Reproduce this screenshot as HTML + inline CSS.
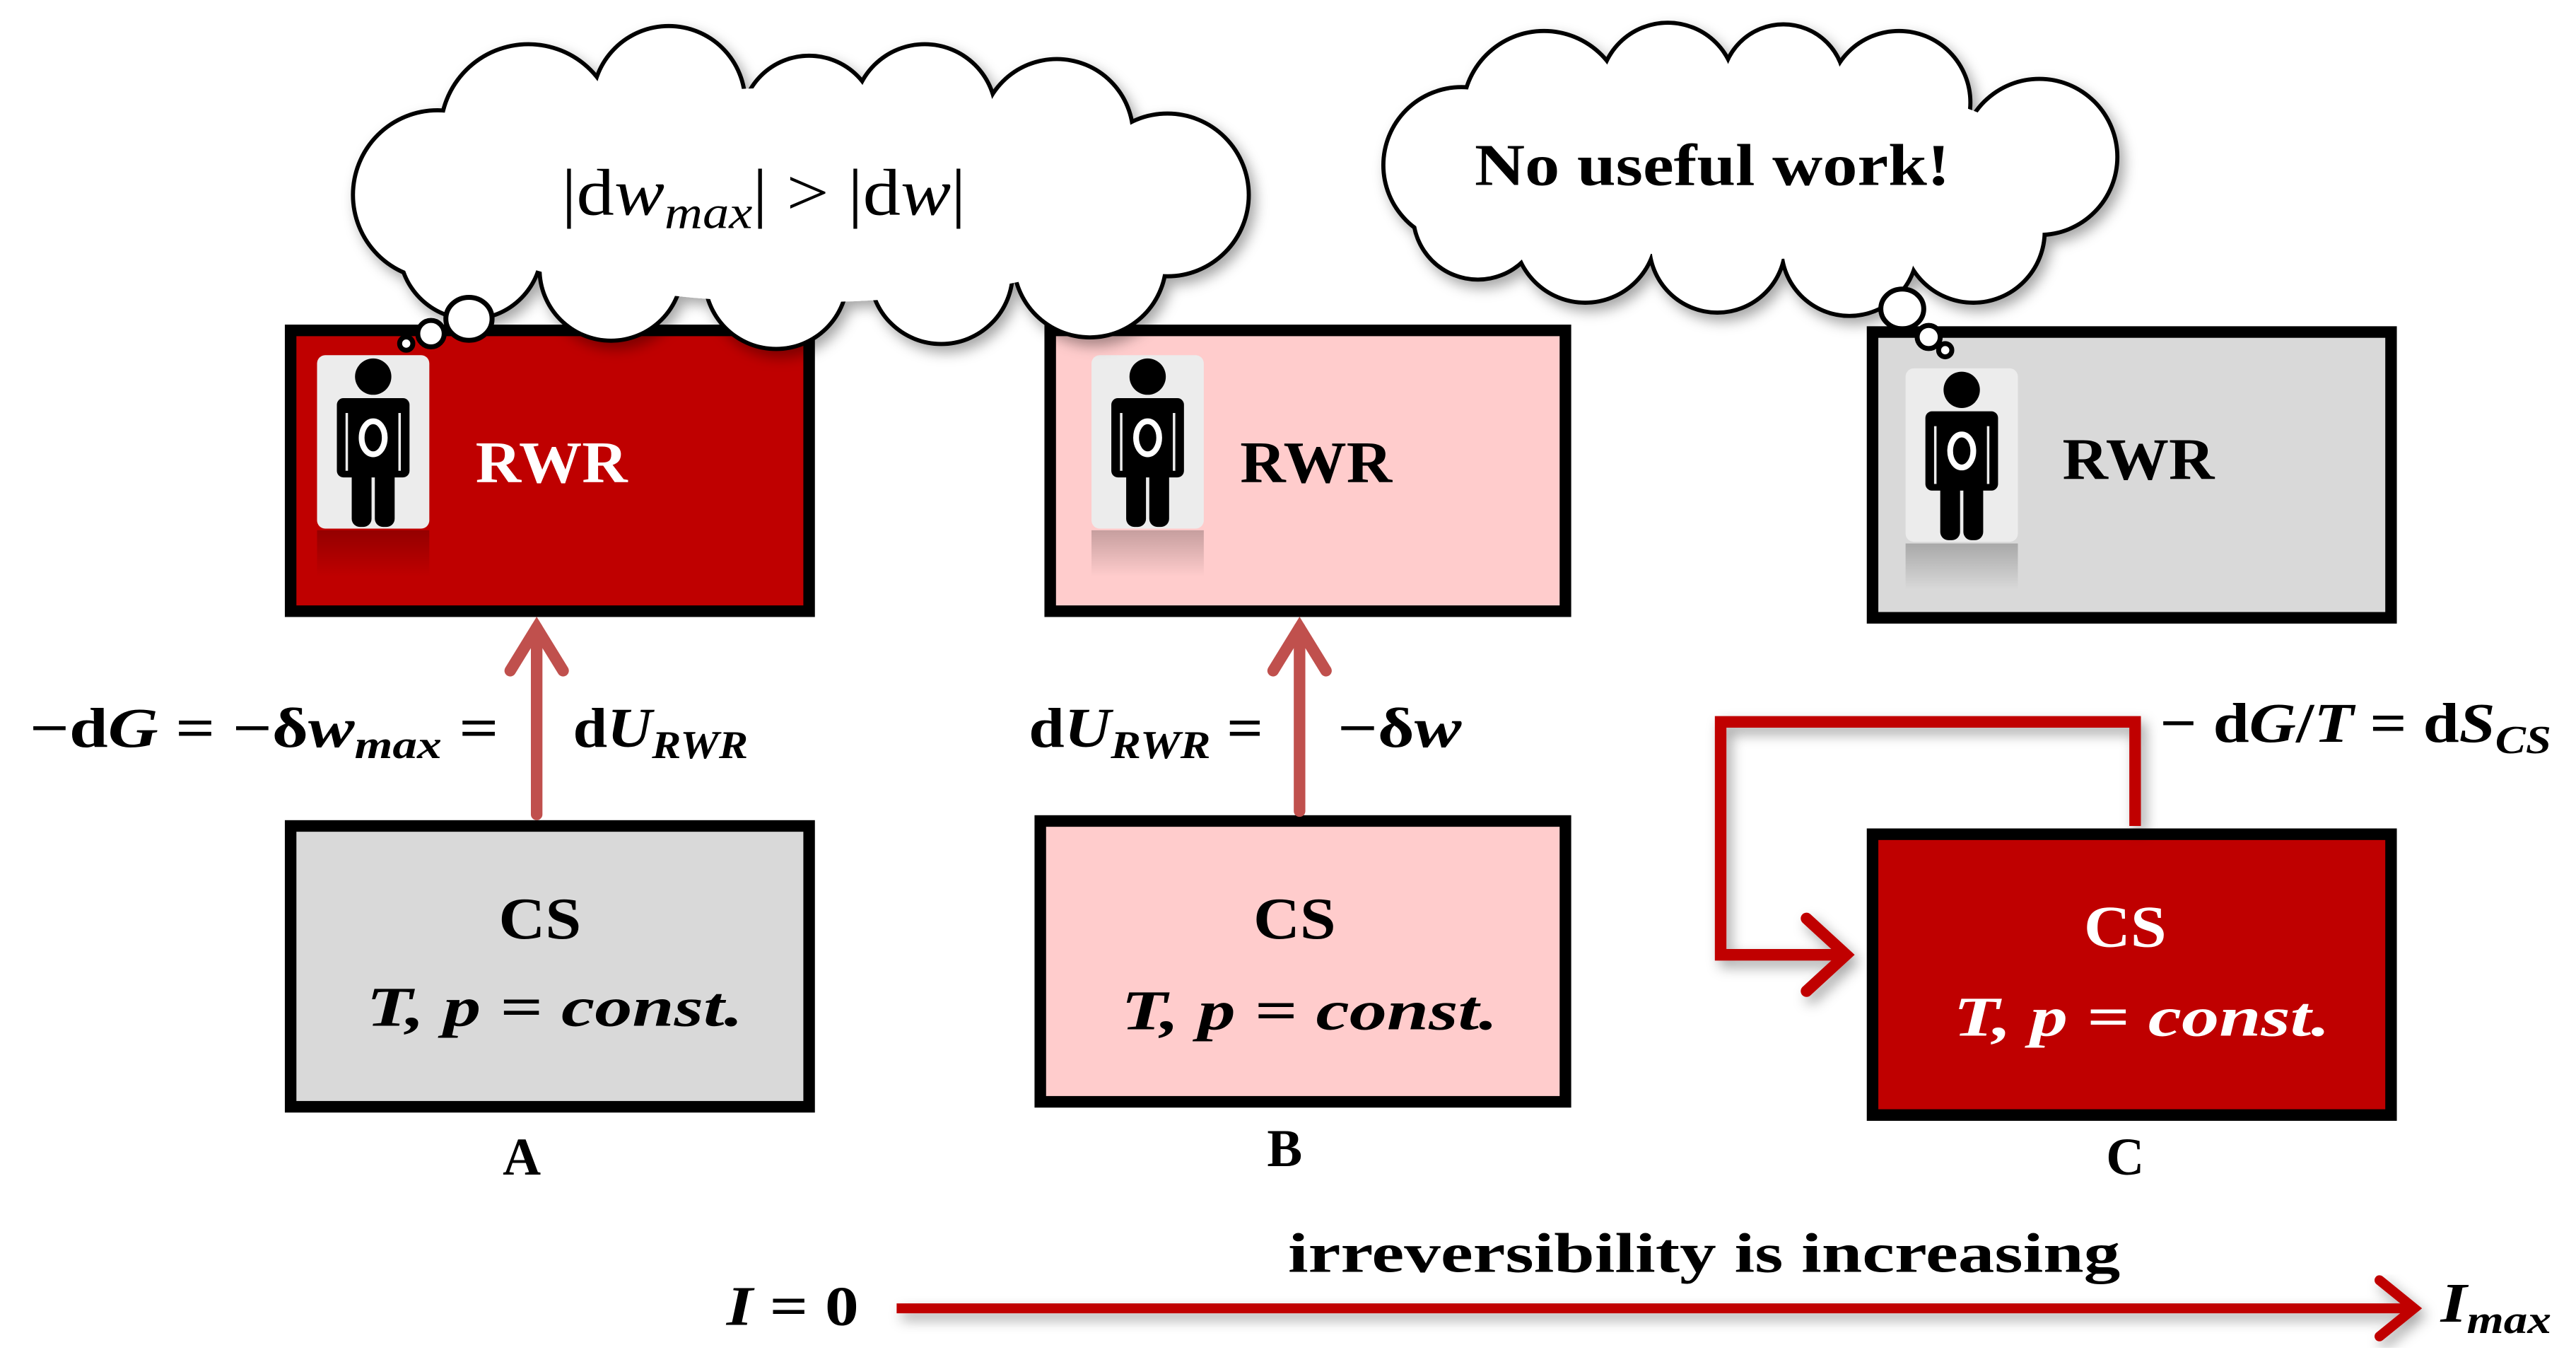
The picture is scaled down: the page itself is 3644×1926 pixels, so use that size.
<!DOCTYPE html>
<html><head><meta charset="utf-8"><style>
html,body{margin:0;padding:0;background:#fff;}
svg{display:block}
text{font-family:"Liberation Serif",serif;}
</style></head><body>
<svg width="3644" height="1926" viewBox="0 0 1560 824.5" preserveAspectRatio="none" xmlns="http://www.w3.org/2000/svg">
<defs>
<filter id="sh" x="-10%" y="-10%" width="130%" height="130%"><feDropShadow dx="3" dy="4" stdDeviation="4" flood-color="#000" flood-opacity="0.35"/></filter>
<linearGradient id="refl" x1="0" y1="0" x2="0" y2="1"><stop offset="0" stop-color="#000" stop-opacity="0.45"/><stop offset="1" stop-color="#000" stop-opacity="0"/></linearGradient>
<g id="person">
<rect x="0" y="0" width="68" height="105" rx="5" fill="#ececec"/>
<circle cx="34" cy="13" r="11" fill="#000"/>
<rect x="12" y="26" width="44" height="48" rx="4" fill="#000"/>
<rect x="21" y="60" width="12" height="44" rx="5" fill="#000"/>
<rect x="35" y="60" width="12" height="44" rx="5" fill="#000"/>
<ellipse cx="34" cy="50" rx="7" ry="10" fill="none" stroke="#fff" stroke-width="3.5"/>
<line x1="18" y1="35" x2="18" y2="70" stroke="#ececec" stroke-width="1.5"/>
<line x1="50" y1="35" x2="50" y2="70" stroke="#ececec" stroke-width="1.5"/>
<rect x="0" y="106" width="68" height="28" fill="url(#refl)" opacity="0.5"/>
</g>
</defs>

<!-- Boxes -->
<rect x="176" y="200" width="314" height="170" fill="#bf0000" stroke="#000" stroke-width="7"/>
<rect x="636" y="200" width="312" height="170" fill="#ffcccc" stroke="#000" stroke-width="7"/>
<rect x="1134" y="201" width="314" height="173" fill="#d9d9d9" stroke="#000" stroke-width="7"/>
<rect x="176" y="500" width="314" height="170" fill="#d9d9d9" stroke="#000" stroke-width="7"/>
<rect x="630" y="497" width="318" height="170" fill="#ffcccc" stroke="#000" stroke-width="7"/>
<rect x="1134" y="505" width="314" height="170" fill="#bf0000" stroke="#000" stroke-width="7"/>

<use href="#person" x="192" y="215"/>
<use href="#person" x="661" y="215"/>
<use href="#person" x="1154" y="223"/>

<!-- Cloud 1 -->
<g filter="url(#sh)">
<g stroke="#000" stroke-width="5" fill="#fff">
<circle cx="265" cy="118" r="50"/><circle cx="320" cy="80" r="52"/><circle cx="405" cy="62" r="45"/><circle cx="490" cy="75" r="40"/><circle cx="560" cy="70" r="42"/><circle cx="640" cy="82" r="45"/><circle cx="707" cy="118" r="48"/><circle cx="660" cy="158" r="45"/><circle cx="570" cy="165" r="42"/><circle cx="470" cy="168" r="42"/><circle cx="370" cy="163" r="42"/><circle cx="285" cy="150" r="42"/>
</g>
<g fill="#fff">
<circle cx="265" cy="118" r="50"/><circle cx="320" cy="80" r="52"/><circle cx="405" cy="62" r="45"/><circle cx="490" cy="75" r="40"/><circle cx="560" cy="70" r="42"/><circle cx="640" cy="82" r="45"/><circle cx="707" cy="118" r="48"/><circle cx="660" cy="158" r="45"/><circle cx="570" cy="165" r="42"/><circle cx="470" cy="168" r="42"/><circle cx="370" cy="163" r="42"/><circle cx="285" cy="150" r="42"/><ellipse cx="485" cy="118" rx="225" ry="65"/>
</g>
</g>
<!-- Cloud 2 -->
<g filter="url(#sh)">
<g stroke="#000" stroke-width="5" fill="#fff">
<circle cx="885" cy="100" r="46"/><circle cx="935" cy="68" r="48"/><circle cx="1010" cy="55" r="40"/><circle cx="1080" cy="52" r="36"/><circle cx="1150" cy="62" r="42"/><circle cx="1235" cy="95" r="46"/><circle cx="1195" cy="140" r="42"/><circle cx="1120" cy="150" r="40"/><circle cx="1040" cy="148" r="40"/><circle cx="960" cy="140" r="42"/><circle cx="895" cy="130" r="38"/>
</g>
<g fill="#fff">
<circle cx="885" cy="100" r="46"/><circle cx="935" cy="68" r="48"/><circle cx="1010" cy="55" r="40"/><circle cx="1080" cy="52" r="36"/><circle cx="1150" cy="62" r="42"/><circle cx="1235" cy="95" r="46"/><circle cx="1195" cy="140" r="42"/><circle cx="1120" cy="150" r="40"/><circle cx="1040" cy="148" r="40"/><circle cx="960" cy="140" r="42"/><circle cx="895" cy="130" r="38"/><ellipse cx="1060" cy="102" rx="175" ry="55"/>
</g>
</g>

<!-- bubbles -->
<g stroke="#000" stroke-width="3" fill="#fff">
<ellipse cx="284" cy="193" rx="14" ry="13"/><circle cx="261" cy="202" r="8"/><circle cx="246" cy="208" r="4"/>
<ellipse cx="1152" cy="187" rx="13" ry="12"/><circle cx="1168" cy="204" r="7"/><circle cx="1178" cy="212" r="4"/>
</g>

<g font-weight="bold" font-size="36">
<text x="288" y="292" fill="#fff" textLength="92" lengthAdjust="spacingAndGlyphs">RWR</text>
<text x="751" y="292" fill="#000" textLength="92" lengthAdjust="spacingAndGlyphs">RWR</text>
<text x="1249" y="290" fill="#000" textLength="92" lengthAdjust="spacingAndGlyphs">RWR</text>
<text x="302" y="568" textLength="50" lengthAdjust="spacingAndGlyphs">CS</text>
<text x="759" y="568" textLength="50" lengthAdjust="spacingAndGlyphs">CS</text>
<text x="1262" y="573" fill="#fff" textLength="50" lengthAdjust="spacingAndGlyphs">CS</text>
</g>
<g font-weight="bold" font-style="italic" font-size="34">
<text x="222" y="621" textLength="228" lengthAdjust="spacingAndGlyphs">T, p = const.</text>
<text x="679" y="623" textLength="228" lengthAdjust="spacingAndGlyphs">T, p = const.</text>
<text x="1183" y="627" fill="#fff" textLength="228" lengthAdjust="spacingAndGlyphs">T, p = const.</text>
</g>
<g font-weight="bold" font-size="32">
<text x="316" y="711" text-anchor="middle">A</text>
<text x="778" y="706" text-anchor="middle">B</text>
<text x="1287" y="711" text-anchor="middle">C</text>
</g>

<!-- cloud texts -->
<text x="340" y="130" font-size="40" textLength="245" lengthAdjust="spacingAndGlyphs">|d<tspan font-style="italic">w</tspan><tspan font-style="italic" font-size="28" dy="8">max</tspan><tspan dy="-8">| &gt; |d</tspan><tspan font-style="italic">w</tspan>|</text>
<text x="893" y="112" font-size="36" font-weight="bold" textLength="288" lengthAdjust="spacingAndGlyphs">No useful work!</text>

<!-- up arrows -->
<g stroke="#c0504d" stroke-width="7" fill="none" stroke-linecap="round">
<line x1="325" y1="493" x2="325" y2="380"/><polyline points="309,406 325,380 341,406"/>
<line x1="787" y1="491" x2="787" y2="380"/><polyline points="771,406 787,380 803,406"/>
</g>

<g font-size="34" font-weight="bold">
<text x="18" y="452" textLength="284" lengthAdjust="spacingAndGlyphs">−d<tspan font-style="italic">G</tspan> = −δ<tspan font-style="italic">w</tspan><tspan font-style="italic" font-size="24" dy="7">max</tspan><tspan dy="-7"> =</tspan></text>
<text x="347" y="452" textLength="106" lengthAdjust="spacingAndGlyphs">d<tspan font-style="italic">U</tspan><tspan font-style="italic" font-size="24" dy="7">RWR</tspan></text>
<text x="623" y="452" textLength="142" lengthAdjust="spacingAndGlyphs">d<tspan font-style="italic">U</tspan><tspan font-style="italic" font-size="24" dy="7">RWR</tspan><tspan dy="-7"> =</tspan></text>
<text x="810" y="452" textLength="75" lengthAdjust="spacingAndGlyphs">−δ<tspan font-style="italic">w</tspan></text>
<text x="1308" y="449" textLength="237" lengthAdjust="spacingAndGlyphs">− d<tspan font-style="italic">G</tspan>/<tspan font-style="italic">T</tspan> = d<tspan font-style="italic">S</tspan><tspan font-style="italic" font-size="24" dy="7">CS</tspan></text>
</g>

<!-- C loop connector -->
<g stroke="#c00000" stroke-width="7" fill="none" filter="url(#sh)">
<polyline points="1293,500 1293,437 1042,437 1042,578 1118,578"/>
<polyline points="1094,556 1118,578 1094,600" stroke-linecap="round"/>
</g>

<!-- bottom arrow -->
<g stroke="#c00000" stroke-width="6" fill="none" filter="url(#sh)">
<line x1="543" y1="792" x2="1462" y2="792"/>
<polyline points="1441,775 1462,792 1441,809" stroke-linecap="round"/>
</g>
<text x="440" y="802" font-size="34" font-weight="bold" textLength="80" lengthAdjust="spacingAndGlyphs"><tspan font-style="italic">I</tspan> = 0</text>
<text x="1478" y="800" font-size="34" font-weight="bold" font-style="italic" textLength="67" lengthAdjust="spacingAndGlyphs">I<tspan font-size="24" dy="7">max</tspan></text>
<text x="780" y="770" font-size="34" font-weight="bold" textLength="504" lengthAdjust="spacingAndGlyphs">irreversibility is increasing</text>
</svg>
</body></html>
